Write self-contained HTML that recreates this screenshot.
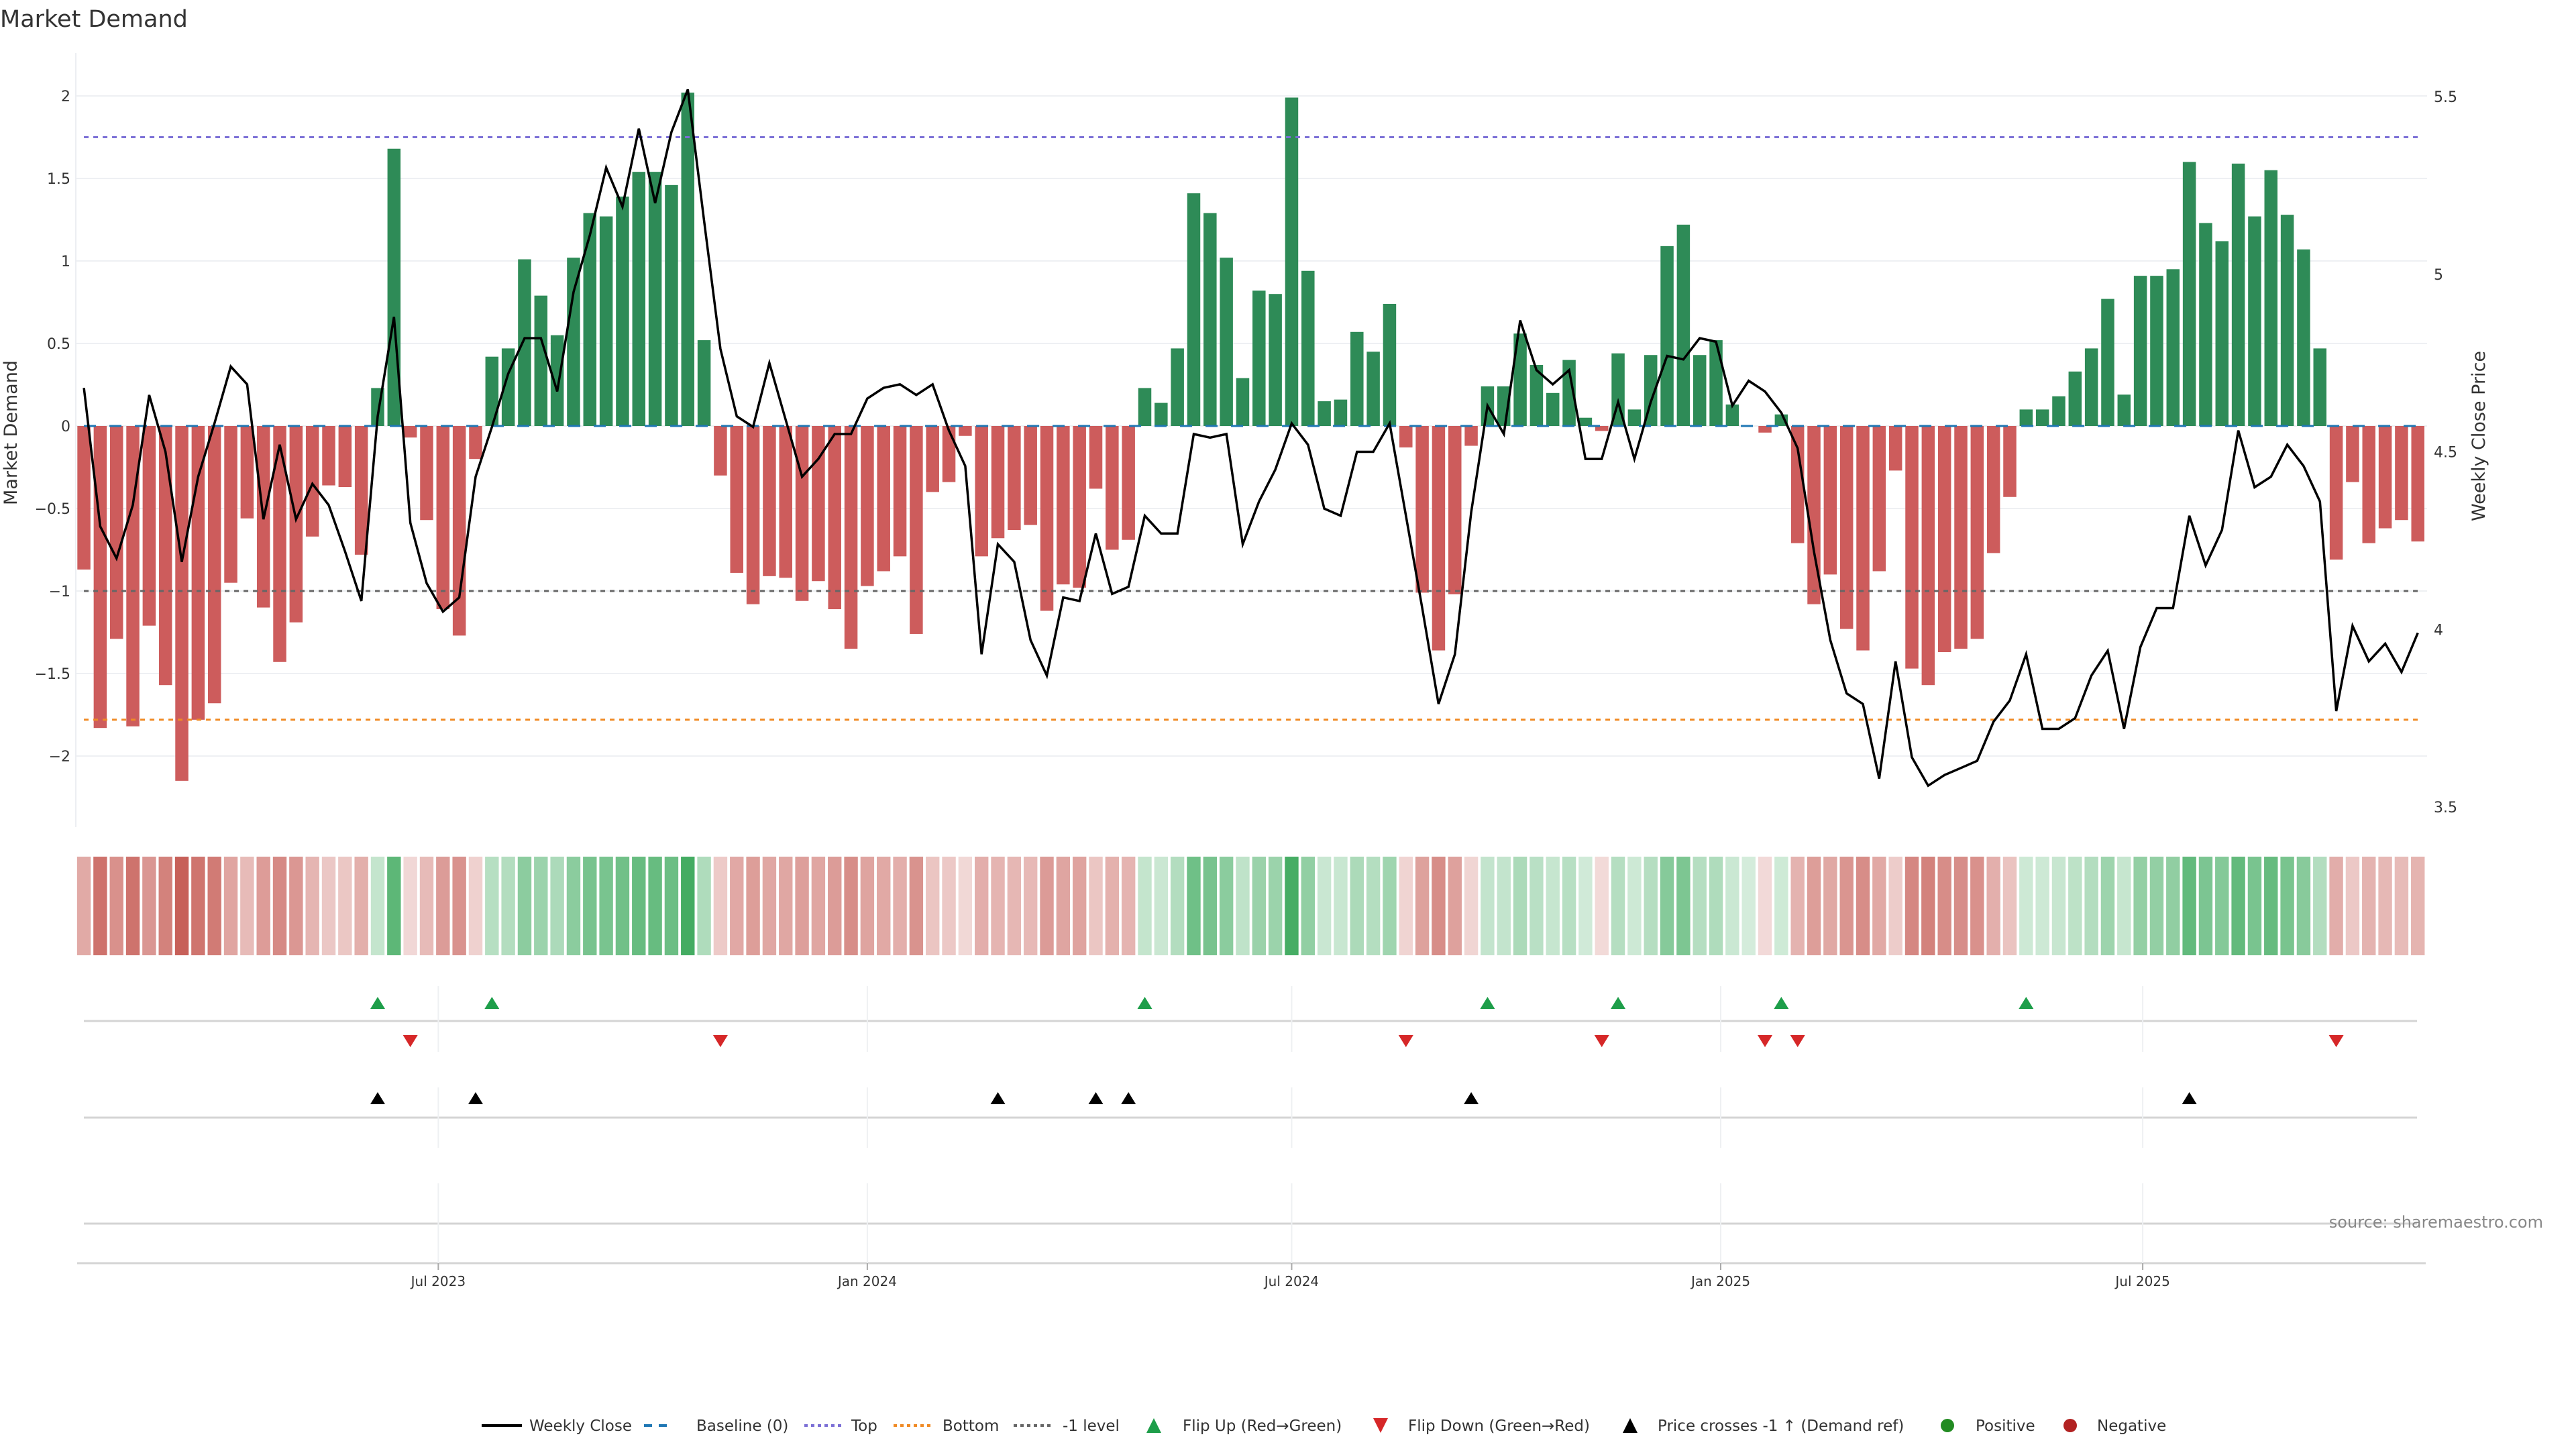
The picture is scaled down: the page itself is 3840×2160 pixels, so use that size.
<!DOCTYPE html>
<html><head><meta charset="utf-8"><style>
html,body{margin:0;padding:0;background:#fff;}
svg{display:block;font-family:"DejaVu Sans","Liberation Sans",sans-serif;}
</style></head><body>
<svg id="chart" width="3840" height="2160" viewBox="0 0 3840 2160" xmlns="http://www.w3.org/2000/svg">
<text x="0" y="40" font-size="35" fill="#333">Market Demand</text>
<g id="grid"></g><g id="bars"></g><g id="hlines"></g><g id="price"></g><g id="axes"></g><g id="heat"></g><g id="markers"></g><g id="legend"></g>
</svg>
<script>
const demand = [-0.87,-1.83,-1.29,-1.82,-1.21,-1.57,-2.15,-1.78,-1.68,-0.95,-0.56,-1.10,-1.43,-1.19,-0.67,-0.36,-0.37,-0.78,0.23,1.68,
-0.07,-0.57,-1.11,-1.27,-0.20,0.42,0.47,1.01,0.79,0.55,1.02,1.29,1.27,1.39,1.54,1.54,1.46,2.02,0.52,-0.30,
-0.89,-1.08,-0.91,-0.92,-1.06,-0.94,-1.11,-1.35,-0.97,-0.88,-0.79,-1.26,-0.40,-0.34,-0.06,-0.79,-0.68,-0.63,-0.60,-1.12,
-0.96,-0.98,-0.38,-0.75,-0.69,0.23,0.14,0.47,1.41,1.29,1.02,0.29,0.82,0.80,1.99,0.94,0.15,0.16,0.57,0.45,
0.74,-0.13,-1.01,-1.36,-1.02,-0.12,0.24,0.24,0.56,0.37,0.20,0.40,0.05,-0.03,0.44,0.10,0.43,1.09,1.22,0.43,
0.52,0.13,0.00,-0.04,0.07,-0.71,-1.08,-0.90,-1.23,-1.36,-0.88,-0.27,-1.47,-1.57,-1.37,-1.35,-1.29,-0.77,-0.43,0.10,
0.10,0.18,0.33,0.47,0.77,0.19,0.91,0.91,0.95,1.60,1.23,1.12,1.59,1.27,1.55,1.28,1.07,0.47,-0.81,-0.34,
-0.71,-0.62,-0.57,-0.70];
const closePrice = [4.68,4.29,4.20,4.35,4.66,4.50,4.19,4.43,4.58,4.74,4.69,4.31,4.52,4.31,4.41,4.35,4.22,4.08,4.60,4.88,
4.30,4.13,4.05,4.09,4.43,4.57,4.72,4.82,4.82,4.67,4.95,5.11,5.30,5.19,5.41,5.20,5.40,5.52,5.15,4.79,
4.60,4.57,4.75,4.59,4.43,4.48,4.55,4.55,4.65,4.68,4.69,4.66,4.69,4.56,4.46,3.93,4.24,4.19,3.97,3.87,
4.09,4.08,4.27,4.10,4.12,4.32,4.27,4.27,4.55,4.54,4.55,4.24,4.36,4.45,4.58,4.52,4.34,4.32,4.50,4.50,
4.58,4.32,4.06,3.79,3.93,4.33,4.63,4.55,4.87,4.73,4.69,4.73,4.48,4.48,4.64,4.48,4.64,4.77,4.76,4.82,
4.81,4.63,4.70,4.67,4.61,4.51,4.22,3.97,3.82,3.79,3.58,3.91,3.64,3.56,3.59,3.61,3.63,3.74,3.80,3.93,
3.72,3.72,3.75,3.87,3.94,3.72,3.95,4.06,4.06,4.32,4.18,4.28,4.56,4.40,4.43,4.52,4.46,4.36,3.77,4.01,
3.91,3.96,3.88,3.99];
const startDate = "2023-01-30";
const leftTicks = [-2,-1.5,-1,-0.5,0,0.5,1,1.5,2];
const rightTicks = [3.5,4,4.5,5,5.5];
const dateTicks = ["2023-07-01","2024-01-01","2024-07-01","2025-01-01","2025-07-01"];
const dateTickLabels = ["Jul 2023","Jan 2024","Jul 2024","Jan 2025","Jul 2025"];
const refLevels = [1.75,-1.78,-1];

const NS="http://www.w3.org/2000/svg";
const DAY=86400000, T_ANCHOR=Date.UTC(2025,0,1);
function xDate(t){return 2565+(t-T_ANCHOR)/DAY*3.4757;}
function yD(v){return 635-v*246;}
function yP(p){return 144+(5.5-p)*529.5;}
function pFromY(y){return 5.5-(y-144)/529.5;}
const t0=Date.parse(startDate+"T00:00:00Z");
const dates=demand.map((_,i)=>t0+i*7*DAY);
const xs=dates.map(xDate);
function mk(tag,attrs,parent){const e=document.createElementNS(NS,tag);for(const k in attrs)e.setAttribute(k,attrs[k]);parent.appendChild(e);return e;}
const G=id=>document.getElementById(id);

leftTicks.forEach(v=>{
  const l=mk('line',{x1:113,x2:3618,y1:yD(v),y2:yD(v),stroke:'#eef0f3','stroke-width':2},G('grid'));
  
  
});
const ax=mk('line',{x1:113,x2:113,y1:79,y2:1233,stroke:'#eceef2','stroke-width':2},G('grid'));



const BW=19.5;
demand.forEach((v,i)=>{
  const y=Math.min(yD(v),yD(0)), h=Math.abs(yD(v)-yD(0));
  const r=mk('rect',{x:xs[i]-BW/2,y:y,width:BW,height:Math.max(h,0.01),fill:v>=0?'#2e8b57':'#cd5c5c'},G('bars'));
  
  
});

const xa=xs[0], xb=xs[xs.length-1];
const bl=mk('line',{x1:xa,x2:xb,y1:yD(0),y2:yD(0),stroke:'#1f77b4','stroke-width':3,'stroke-dasharray':'18 20'},G('hlines'));


const refColors=['#7b6fd6','#f08a24','#666'];
const refNames=['top-line','bottom-line','minus-one-level'];
refLevels.forEach((v,k)=>{
  const l=mk('line',{x1:xa,x2:xb,y1:yD(v),y2:yD(v),stroke:refColors[k],'stroke-width':3,'stroke-dasharray':'7 7'},G('hlines'));
  
  
});

const pl=mk('polyline',{points:closePrice.map((p,i)=>xs[i].toFixed(1)+','+yP(p).toFixed(1)).join(' '),fill:'none',stroke:'#000','stroke-width':3.5,'stroke-linejoin':'miter'},G('price'));



leftTicks.forEach(v=>{
  const t=mk('text',{x:105,y:yD(v)+8,'text-anchor':'end','font-size':22,fill:'#333'},G('axes'));
  t.textContent=(v<0?'\u2212':'')+Math.abs(v);
  
  
});
rightTicks.forEach(v=>{
  const t=mk('text',{x:3628,y:yP(v)+8,'font-size':22,fill:'#333'},G('axes'));
  t.textContent=String(v);
  
  
});
let t=mk('text',{x:0,y:0,'font-size':27,fill:'#333','text-anchor':'middle',transform:'translate(25,645) rotate(-90)'},G('axes'));
t.textContent='Market Demand';


t=mk('text',{x:0,y:0,'font-size':27,fill:'#333','text-anchor':'middle',transform:'translate(3704,650) rotate(-90)'},G('axes'));
t.textContent='Weekly Close Price';



demand.forEach((v,i)=>{
  const a=Math.min(1,0.22+0.36*Math.abs(v));
  const r=mk('rect',{x:xs[i]-10.2,y:1277,width:20.4,height:147,fill:v>=0?'#3aa85a':'#c75f58','fill-opacity':a},G('heat'));
  
  
});

[[1522,125,3603],[1666,125,3603],[1824,125,3603],[1883,115,3616]].forEach((d,k)=>{
  const l=mk('line',{x1:d[1],x2:d[2],y1:d[0],y2:d[0],stroke:'#d4d4d4','stroke-width':3},G('markers'));
  
  
});
dateTicks.forEach((d,k)=>{
  const x=xDate(Date.parse(d+"T00:00:00Z"));
  [[1470,1568],[1621,1711],[1764,1883]].forEach(s=>{
    const l=mk('line',{x1:x,x2:x,y1:s[0],y2:s[1],stroke:'#eef0f2','stroke-width':2},G('markers'));
    
    
  });
  const tk=mk('line',{x1:x,x2:x,y1:1883,y2:1893,stroke:'#aaa','stroke-width':2},G('markers'));
  
  
  const lb=mk('text',{x:x,y:1917,'text-anchor':'middle','font-size':20,fill:'#333'},G('markers'));
  lb.textContent=dateTickLabels[k];
  
  
});
function tri(x,y,up,fill,name){
  const w=11,h=9;
  const pts=up?`${x-w},${y+h} ${x+w},${y+h} ${x},${y-h}`:`${x-w},${y-h} ${x+w},${y-h} ${x},${y+h}`;
  const p=mk('polygon',{points:pts,fill:fill},G('markers'));
  
  
}
let lastSign=0;
demand.forEach((v,i)=>{
  const s=v>0?1:(v<0?-1:0);
  if(s!==0){
    if(lastSign===-1&&s===1) tri(xs[i],1495,true,'#1e9e4a','flip-up-marker');
    if(lastSign===1&&s===-1) tri(xs[i],1552,false,'#d62728','flip-down-marker');
    lastSign=s;
  }
});
const thr=pFromY(yD(-1));
closePrice.forEach((p,i)=>{
  if(i>0&&closePrice[i-1]<thr&&p>=thr) tri(xs[i],1637,true,'#000','price-cross-marker');
});
t=mk('text',{x:3791,y:1830,'text-anchor':'end','font-size':24,fill:'#888'},G('markers'));
t.textContent='source: sharemaestro.com';



const LY=2125;
const L=G('legend');
function ltext(x,s){const e=mk('text',{x:x,y:LY+8,'font-size':23,fill:'#333'},L);e.textContent=s;return e;}
function lline(x1,x2,col,dash,w){return mk('line',{x1:x1,x2:x2,y1:LY,y2:LY,stroke:col,'stroke-width':w,'stroke-dasharray':dash},L);}
let e;
e=lline(718,778,'#000','none',4);  
e=ltext(789,'Weekly Close');  
e=lline(960,1000,'#1f77b4','12 10',4);  
e=ltext(1038,'Baseline (0)');  
e=lline(1199,1255,'#7b6fd6','5 5',4);  
e=ltext(1269,'Top');  
e=lline(1332,1388,'#f08a24','5 5',4);  
e=ltext(1405,'Bottom');  
e=lline(1511,1567,'#666','5 5',4);  
e=ltext(1584,'-1 level');  
e=mk('polygon',{points:`1709,${LY+11} 1731,${LY+11} 1720,${LY-11}`,fill:'#1e9e4a'},L);  
e=ltext(1763,'Flip Up (Red\u2192Green)');  
e=mk('polygon',{points:`2047,${LY-11} 2069,${LY-11} 2058,${LY+11}`,fill:'#d62728'},L);  
e=ltext(2099,'Flip Down (Green\u2192Red)');  
e=mk('polygon',{points:`2419,${LY+11} 2441,${LY+11} 2430,${LY-11}`,fill:'#000'},L);  
e=ltext(2471,'Price crosses -1 \u2191 (Demand ref)');  
e=mk('circle',{cx:2903,cy:LY,r:10,fill:'#228b22'},L);  
e=ltext(2945,'Positive');  
e=mk('circle',{cx:3086,cy:LY,r:10,fill:'#b22222'},L);  
e=ltext(3126,'Negative');  
</script>
</body></html>
